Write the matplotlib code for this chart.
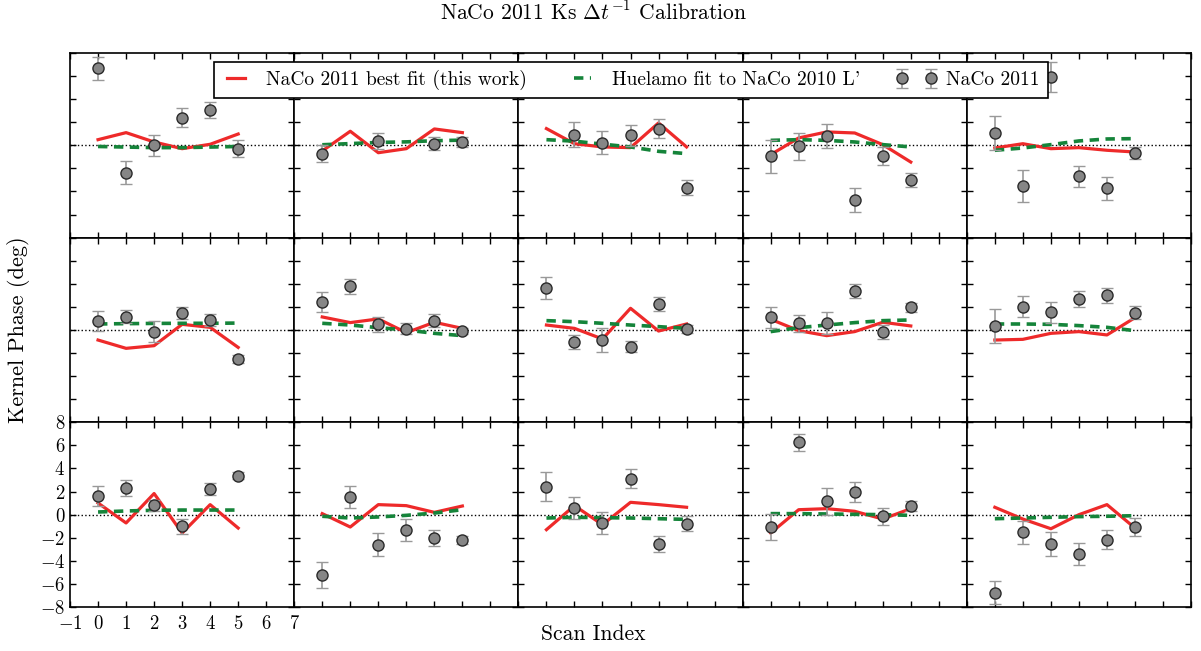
import numpy as np
import matplotlib.pyplot as plt
from matplotlib.container import ErrorbarContainer
from matplotlib.legend_handler import HandlerErrorbar

plt.rcParams['font.family'] = 'cmr10'
plt.rcParams['mathtext.fontset'] = 'cm'
plt.rcParams['axes.formatter.use_mathtext'] = True

scan_index = [0, 1, 2, 3, 4, 5]

# kernel phases per panel (left to right, top to bottom)
naco_2011 = [
    [6.67, -2.38, 0.0, 2.38, 3.07, -0.29],
    [-0.72, 5.8, 0.38, 5.0, 0.14, 0.29],
    [5.6, 0.93, 0.23, 0.87, 1.45, -3.68],
    [-0.96, -0.09, 0.81, -4.7, -0.93, -2.99],
    [1.07, -3.54, 5.94, -2.67, -3.71, -0.67],
    [0.78, 1.16, -0.14, 1.45, 0.87, -2.52],
    [2.41, 3.77, 0.49, 0.09, 0.81, -0.09],
    [3.62, -1.07, -0.87, -1.45, 2.26, 0.06],
    [1.1, 0.58, 0.58, 3.39, -0.14, 1.97],
    [0.35, 2.03, 1.54, 2.67, 2.99, 1.51],
    [1.62, 2.32, 0.81, -1.01, 2.2, 3.39],
    [-5.22, 1.54, -2.61, -1.3, -2.03, -2.17],
    [2.41, 0.58, -0.72, 3.13, -2.55, -0.78],
    [-1.07, 6.29, 1.16, 1.97, -0.14, 0.72],
    [-6.75, -1.54, -2.52, -3.39, -2.17, -1.07],
]
naco_2011_err = [
    [1.0, 1.0, 0.93, 0.83, 0.72, 0.75],
    [0.72, 0.6, 0.71, 0.85, 0.55, 0.43],
    [0.7, 1.06, 1.0, 0.93, 0.8, 0.65],
    [1.4, 1.16, 1.0, 1.04, 0.77, 0.6],
    [1.45, 1.38, 1.3, 0.9, 1.0, 0.55],
    [0.83, 0.58, 0.9, 0.5, 0.5, 0.36],
    [0.87, 0.64, 0.67, 0.48, 0.54, 0.3],
    [0.93, 0.62, 1.0, 0.46, 0.62, 0.36],
    [0.93, 0.72, 0.96, 0.58, 0.6, 0.4],
    [1.45, 0.9, 0.9, 0.7, 0.62, 0.55],
    [0.83, 0.67, 0.5, 0.64, 0.5, 0.33],
    [1.13, 0.94, 1.0, 0.96, 0.7, 0.35],
    [1.26, 0.97, 0.97, 0.86, 0.7, 0.65],
    [1.09, 0.74, 1.16, 0.86, 0.75, 0.43],
    [1.0, 1.0, 1.06, 0.94, 0.8, 0.8],
]
best_fit = [
    [0.49, 1.1, 0.29, -0.29, 0.09, 0.98],
    [-0.49, 1.22, -0.64, -0.29, 1.42, 1.1],
    [1.45, 0.14, -0.14, -0.2, 1.94, -0.14],
    [-0.81, 0.64, 1.16, 1.07, 0.06, -1.45],
    [-0.23, 0.14, -0.29, -0.2, -0.43, -0.58],
    [-0.87, -1.59, -1.36, 0.49, 0.23, -1.51],
    [1.13, 0.64, 0.96, -0.23, 0.67, 0.14],
    [0.43, 0.14, -0.78, 1.88, -0.09, 0.52],
    [0.93, -0.06, -0.49, -0.14, 0.67, 0.35],
    [-0.87, -0.81, -0.29, -0.14, -0.43, 1.07],
    [1.01, -0.72, 1.83, -1.59, 0.87, -1.16],
    [0.09, -1.07, 0.87, 0.78, 0.2, 0.75],
    [-1.3, 0.78, -0.87, 1.07, 0.87, 0.64],
    [-1.59, 0.43, 0.52, 0.29, -0.38, 0.52],
    [0.64, -0.38, -1.22, 0.0, 0.87, -1.16],
]
huelamo_fit = [
    [-0.1, -0.15, -0.2, -0.2, -0.15, -0.1],
    [0.05, 0.15, 0.25, 0.3, 0.4, 0.45],
    [0.49, 0.36, 0.1, -0.14, -0.52, -0.72],
    [0.43, 0.49, 0.43, 0.29, 0.06, -0.14],
    [-0.43, -0.23, 0.06, 0.38, 0.55, 0.58],
    [0.52, 0.55, 0.57, 0.58, 0.58, 0.6],
    [0.58, 0.43, 0.2, 0.0, -0.29, -0.49],
    [0.81, 0.72, 0.58, 0.43, 0.29, 0.14],
    [-0.14, 0.2, 0.43, 0.64, 0.81, 0.87],
    [0.52, 0.52, 0.49, 0.38, 0.23, -0.06],
    [0.23, 0.32, 0.38, 0.4, 0.4, 0.4],
    [-0.14, -0.29, -0.2, -0.06, 0.14, 0.43],
    [-0.29, -0.23, -0.26, -0.29, -0.35, -0.41],
    [0.09, 0.09, 0.06, 0.03, 0.0, -0.06],
    [-0.35, -0.29, -0.23, -0.17, -0.14, -0.09],
]

fig, axes = plt.subplots(3, 5, sharex=True, sharey=True, figsize=(12.01, 6.51), dpi=100)
plt.subplots_adjust(left=0.0583, right=0.9917, top=0.9186, bottom=0.0676, wspace=0, hspace=0)

for i, ax in enumerate(axes.flat):
    ax.axhline(0, color='k', linestyle=':', linewidth=1, zorder=1)
    ax.plot(scan_index, best_fit[i], color='#ee2a2a', linewidth=2.3, zorder=2,
            label='NaCo 2011 best fit (this work)')
    ax.plot(scan_index, huelamo_fit[i], color='#15843a', linewidth=2.6, dashes=(2.6, 1.8),
            zorder=2, label="Huelamo fit to NaCo 2010 L'")
    ax.errorbar(scan_index, naco_2011[i], yerr=naco_2011_err[i], fmt='o', ms=8,
                mfc='#868686', mec='#2a2a2a', mew=1, ecolor='#999999', elinewidth=1.2,
                capsize=4, capthick=1.2, zorder=3, label='NaCo 2011')
    ax.set_xlim(-1, 7)
    ax.set_ylim(-8, 8)
    ax.set_xticks(range(-1, 8))
    ax.set_yticks(range(-8, 9, 2))
    ax.tick_params(direction='in', top=True, right=True, length=4.5, width=1,
                   labelsize=13.5, labelbottom=False, labelleft=False)
    ax.tick_params(axis='x', pad=6)
    for sp in ax.spines.values():
        sp.set_linewidth(1.2)

axes[2, 0].tick_params(labelbottom=True, labelleft=True)

handles, labels = axes[0, 0].get_legend_handles_labels()
leg = fig.legend(handles, labels, loc='center', bbox_to_anchor=(0.525, 0.877), ncol=3,
                 numpoints=2, fancybox=False, edgecolor='black', framealpha=1,
                 fontsize=14, handlelength=1.5, columnspacing=2.1,
                 handler_map={ErrorbarContainer: HandlerErrorbar(marker_pad=0)})
leg.get_frame().set_linewidth(1.2)

fig.suptitle(r'NaCo 2011 Ks $\Delta t^{-1}$ Calibration', x=0.494, y=0.982, fontsize=15.5, va='center')
fig.text(0.494, 0.025, 'Scan Index', ha='center', va='center', fontsize=15.5)
fig.text(0.015, 0.493, 'Kernel Phase (deg)', ha='center', va='center', rotation=90, fontsize=16)

plt.savefig('out.png', dpi=100)
